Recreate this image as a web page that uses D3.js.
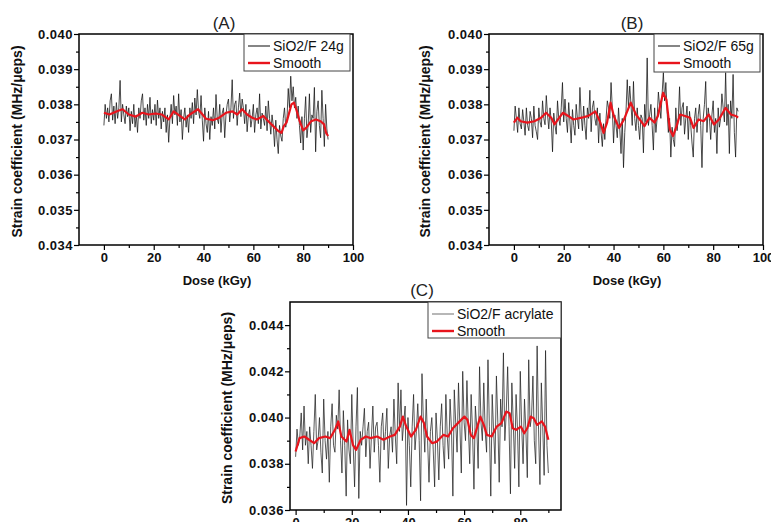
<!DOCTYPE html>
<html><head><meta charset="utf-8">
<script src="https://cdn.jsdelivr.net/npm/d3@7"></script>
<style>body{margin:0;background:#fff}svg{display:block}</style>
</head><body><svg id="c" width="771" height="522"></svg>
<script>
// ---------- DATA ----------
const panelTitles = ["(A)", "(B)", "(C)"];
const legendLabels = ["SiO2/F 24g", "SiO2/F 65g", "SiO2/F acrylate"];
const smoothLabel = "Smooth";
const xTitle = "Dose (kGy)";
const yTitle = "Strain coefficient (MHz/\u03bceps)";
const xTicksAB = [0, 20, 40, 60, 80, 100];
const xMinorAB = [10, 30, 50, 70, 90];
const xTicksC = [0, 20, 40, 60, 80];
const xMinorC = [10, 30, 50, 70, 90];
const yTicksAB = [0.034, 0.035, 0.036, 0.037, 0.038, 0.039, 0.040];
const yMinorAB = [0.0345, 0.0355, 0.0365, 0.0375, 0.0385, 0.0395];
const yTicksC = [0.036, 0.038, 0.040, 0.042, 0.044];
const yMinorC = [0.037, 0.039, 0.041, 0.043];

// raw samples every 0.5 kGy from 0 to 90
const rawStep = 0.5;
const rawA = [
.03740,.03800,.03760,.03790,.03750,.03810,.03830,.03755,.03795,.03745,
.03805,.03760,.03790,.03868,.03750,.03800,.03770,.03745,.03795,.03765,
.03790,.03725,.03780,.03745,.03800,.03735,.03770,.03720,.03790,.03760,
.03810,.03830,.03755,.03790,.03740,.03800,.03760,.03820,.03745,.03785,
.03755,.03800,.03740,.03812,.03760,.03790,.03730,.03780,.03750,.03790,
.03720,.03770,.03692,.03760,.03800,.03745,.03825,.03770,.03795,.03740,
.03830,.03750,.03785,.03700,.03760,.03790,.03735,.03770,.03720,.03790,
.03760,.03805,.03745,.03818,.03770,.03842,.03780,.03760,.03825,.03755,
.03695,.03790,.03745,.03720,.03780,.03700,.03765,.03740,.03790,.03730,
.03828,.03760,.03745,.03800,.03720,.03775,.03790,.03705,.03770,.03800,
.03815,.03750,.03790,.03870,.03760,.03800,.03810,.03740,.03790,.03832,
.03765,.03815,.03790,.03745,.03800,.03722,.03770,.03785,.03735,.03760,
.03800,.03720,.03770,.03790,.03745,.03830,.03730,.03775,.03760,.03740,
.03795,.03725,.03810,.03760,.03715,.03770,.03740,.03680,.03755,.03700,
.03660,.03740,.03710,.03695,.03760,.03790,.03735,.03760,.03845,.03790,
.03880,.03810,.03850,.03790,.03820,.03760,.03795,.03740,.03690,.03765,
.03670,.03760,.03822,.03705,.03740,.03830,.03720,.03770,.03760,.03848,
.03665,.03780,.03810,.03740,.03705,.03840,.03760,.03680,.03800,.03730,
.03700];
const rawB = [
.03725,.03795,.03760,.03720,.03790,.03745,.03730,.03785,.03750,.03712,
.03790,.03740,.03725,.03780,.03760,.03705,.03795,.03740,.03722,.03700,
.03790,.03750,.03735,.03810,.03760,.03742,.03825,.03770,.03730,.03790,
.03750,.03665,.03775,.03740,.03715,.03810,.03760,.03740,.03790,.03862,
.03750,.03815,.03760,.03720,.03805,.03750,.03690,.03785,.03740,.03712,
.03800,.03760,.03730,.03848,.03770,.03725,.03795,.03740,.03700,.03790,
.03760,.03840,.03722,.03790,.03810,.03760,.03740,.03790,.03690,.03775,
.03720,.03680,.03745,.03700,.03760,.03810,.03790,.03760,.03862,.03790,
.03690,.03770,.03740,.03705,.03790,.03730,.03660,.03760,.03620,.03720,
.03780,.03870,.03790,.03852,.03800,.03740,.03865,.03760,.03725,.03790,
.03740,.03700,.03770,.03760,.03662,.03800,.03750,.03932,.03740,.03770,
.03800,.03740,.03670,.03790,.03720,.03760,.03835,.03795,.03760,.03830,
.03890,.03810,.03862,.03780,.03720,.03760,.03650,.03735,.03700,.03680,
.03790,.03725,.03760,.03850,.03740,.03790,.03805,.03715,.03760,.03795,
.03700,.03780,.03740,.03690,.03650,.03760,.03790,.03720,.03770,.03800,
.03740,.03620,.03760,.03800,.03865,.03720,.03790,.03760,.03700,.03770,
.03810,.03720,.03760,.03660,.03790,.03735,.03760,.03830,.03790,.03750,
.03890,.03740,.03800,.03660,.03810,.03760,.03885,.03720,.03650,.03790,
.03780];
const rawC = [
.03830,.03950,.03880,.03920,.04020,.03860,.04050,.03880,.03940,.03800,
.03960,.03880,.03780,.03940,.04100,.03860,.03900,.04000,.03850,.03760,
.04080,.03900,.03820,.03940,.03720,.03960,.04060,.03880,.03850,.04010,
.03950,.04120,.03900,.03760,.04030,.03880,.03660,.03990,.03860,.03800,
.04100,.03880,.03700,.03960,.04130,.03650,.03940,.03880,.03960,.04040,
.03830,.03940,.03980,.03780,.03920,.04050,.03850,.03960,.03980,.03880,
.03720,.03960,.04020,.03860,.03940,.04040,.03780,.03920,.03960,.03850,
.04080,.03920,.03800,.04150,.03940,.04120,.03900,.03980,.04050,.03620,
.04000,.03880,.03700,.03960,.04100,.03860,.03940,.04060,.03900,.03640,
.04190,.03980,.03850,.04080,.03900,.03720,.03940,.04000,.03860,.03700,
.04020,.03900,.03730,.03960,.04060,.03880,.03780,.04100,.03920,.03820,
.04080,.03950,.03660,.04120,.03980,.03850,.04150,.03960,.03760,.04200,
.03980,.03900,.04160,.03960,.03800,.04100,.03940,.03690,.04050,.03960,
.03780,.04220,.03980,.03900,.04150,.03940,.03850,.04250,.03960,.03660,
.04100,.03940,.03800,.04180,.03980,.03720,.04080,.03960,.04280,.03900,
.04020,.04220,.03960,.03670,.04150,.03980,.03780,.04100,.03950,.03700,
.04200,.03960,.03800,.04080,.03940,.03740,.04250,.03960,.04000,.04180,
.03900,.03800,.04310,.03950,.03710,.04150,.03960,.03750,.04290,.03880,
.03760];

// smoothed curves [dose, value]
const smoothA = [
[0,.03776],[2.2,.03771],[5.5,.03781],[7.5,.03786],[10,.03771],[12.8,.03765],[15.4,.03776],
[18,.03771],[20.7,.03774],[23.3,.03771],[26,.03757],[28,.0378],[30.5,.03767],[32.5,.03757],
[34.5,.03771],[37.8,.03786],[39,.03776],[41,.03759],[43.7,.03755],[46.3,.03762],[49,.03776],
[51.6,.0378],[53.5,.03771],[55.5,.03786],[57.5,.03771],[59.5,.03762],[61.4,.03757],[64,.03767],
[66,.03752],[68,.03738],[70,.03724],[71.3,.03719],[72.2,.03738],[73.3,.03748],[75.3,.0380],
[76.3,.03805],[77.2,.03786],[78.6,.03752],[80,.03726],[81.2,.03733],[83.2,.03752],[85.1,.03757],
[87,.03752],[88.4,.03743],[89.2,.03719],[90,.0371]];
const smoothB = [
[0,.03748],[1.4,.03762],[2.7,.03752],[5.4,.03748],[8.2,.03752],[10.9,.03762],[12.9,.03776],
[15,.03762],[16.3,.03743],[17.7,.03757],[19.7,.03776],[21.8,.03767],[23.8,.03757],[27.2,.03762],
[29.9,.03767],[32.7,.0378],[34.7,.03748],[36,.03719],[37.4,.03748],[38.8,.03805],[40.1,.03767],
[42.2,.03733],[44.2,.03757],[46.9,.03805],[49,.03771],[51,.03752],[52.4,.03738],[54.4,.03762],
[56.5,.03748],[57.8,.03767],[59.9,.03833],[61.2,.03814],[62.6,.03729],[63.9,.0371],[65.3,.03738],
[66.7,.03771],[68.7,.03767],[70.7,.03762],[72.1,.03733],[74.1,.03757],[76.2,.03752],[78.2,.03771],
[80.3,.03743],[82.3,.03757],[85,.0379],[87.1,.03771],[89.1,.03767],[90,.03762]];
const smoothC = [
[0,.03853],[1.4,.03911],[3.1,.03918],[4.8,.03904],[6.6,.03889],[8.3,.03911],[10.6,.03918],
[12.3,.03911],[14,.03947],[15.2,.03983],[16.3,.03918],[18.1,.03896],[19.2,.03947],[20.4,.03882],
[21.5,.0386],[23.2,.03904],[25,.03918],[26.7,.03911],[29,.03918],[31.3,.03904],[33.6,.03918],
[35.3,.03925],[37.1,.03961],[38.2,.04004],[39.4,.03961],[41.1,.03918],[42.8,.03947],[44.5,.04004],
[45.7,.03976],[46.8,.03918],[48.6,.03889],[50.3,.03896],[52.6,.03925],[54.3,.03918],[56,.03954],
[57.8,.03976],[60.1,.04004],[61.2,.0399],[62.4,.03925],[63.5,.03911],[64.7,.03961],[65.8,.04004],
[67,.03968],[68.1,.03925],[69.8,.03918],[71.6,.03961],[73.3,.03976],[75,.04026],[76.2,.04019],
[77.3,.03954],[78.5,.03947],[80.2,.03961],[81.4,.03932],[82.5,.03954],[83.7,.04004],[84.8,.03997],
[86,.03968],[87.7,.03983],[88.8,.03961],[90,.03904]];

// ---------- LAYOUT ----------
const panels = [
  {raw: rawA, smooth: smoothA, title: panelTitles[0], leg: legendLabels[0],
   l: 79, r: 353, t: 34, b: 245, xd: [-10, 100], yd: [0.034, 0.040],
   xt: xTicksAB, xm: xMinorAB, yt: yTicksAB, ym: yMinorAB,
   titleX: 224, titleY: 29, yTitleX: 17, xTitleX: 217, xTitleY: 285,
   legBox: [244, 34, 106, 37], rawColor: "#111", legRawColor: "#333"},
  {raw: rawB, smooth: smoothB, title: panelTitles[1], leg: legendLabels[1],
   l: 489, r: 763, t: 34, b: 245, xd: [-10, 100], yd: [0.034, 0.040],
   xt: xTicksAB, xm: xMinorAB, yt: yTicksAB, ym: yMinorAB,
   titleX: 632, titleY: 29, yTitleX: 425, xTitleX: 627, xTitleY: 285,
   legBox: [654, 34, 106, 38], rawColor: "#111", legRawColor: "#333"},
  {raw: rawC, smooth: smoothC, title: panelTitles[2], leg: legendLabels[2],
   l: 290, r: 561, t: 302, b: 510, xd: [-2, 94.5], yd: [0.036, 0.045],
   xt: xTicksC, xm: xMinorC, yt: yTicksC, ym: yMinorC,
   titleX: 422, titleY: 296, yTitleX: 227, xTitleX: null, xTitleY: null,
   legBox: [428, 302, 133, 36], rawColor: "#222", legRawColor: "#888"}
];

const svg = d3.select("#c");
const FONT = "Arial, 'Liberation Sans', Helvetica, sans-serif";

panels.forEach(p => {
  const x = d3.scaleLinear().domain(p.xd).range([p.l, p.r]);
  const y = d3.scaleLinear().domain(p.yd).range([p.b, p.t]);
  const g = svg.append("g");

  // data
  const rawPts = p.raw.map((v, i) => [i * rawStep, v]);
  const line = d3.line().x(d => x(d[0])).y(d => y(d[1]));
  g.append("path").attr("d", line(rawPts)).attr("fill", "none")
    .attr("stroke", p.rawColor).attr("stroke-width", 0.75);
  g.append("path").attr("d", line(p.smooth)).attr("fill", "none")
    .attr("stroke", "#e8141c").attr("stroke-width", 2.2).attr("stroke-linejoin", "round");

  // axes
  g.append("g").attr("transform", `translate(0,${p.b})`)
    .call(d3.axisBottom(x).tickValues(p.xt).tickSize(5).tickPadding(3).tickFormat(d3.format("d")));
  g.append("g").attr("transform", `translate(0,${p.b})`)
    .call(d3.axisBottom(x).tickValues(p.xm).tickSize(3).tickFormat(""));
  const ay = g.append("g").attr("transform", `translate(${p.l},0)`)
    .call(d3.axisLeft(y).tickValues(p.yt).tickSize(5).tickPadding(1).tickFormat(d3.format(".3f")));
  g.append("g").attr("transform", `translate(${p.l},0)`)
    .call(d3.axisLeft(y).tickValues(p.ym).tickSize(3).tickFormat(""));
  g.selectAll(".domain").remove();
  g.selectAll(".tick line").attr("stroke", "#000").attr("stroke-width", 1.2);
  g.selectAll(".tick text").attr("font-family", FONT).attr("font-weight", "bold")
    .attr("font-size", 13).attr("fill", "#111");
  ay.selectAll(".tick text").attr("letter-spacing", 0.5);

  // frame
  g.append("rect").attr("x", p.l).attr("y", p.t).attr("width", p.r - p.l).attr("height", p.b - p.t)
    .attr("fill", "none").attr("stroke", "#000").attr("stroke-width", 1.5);

  // titles
  g.append("text").attr("x", p.titleX).attr("y", p.titleY).attr("text-anchor", "middle")
    .attr("font-family", FONT).attr("font-size", 17).attr("fill", "#222").text(p.title);
  if (p.xTitleY) {
    g.append("text").attr("x", p.xTitleX).attr("y", p.xTitleY).attr("text-anchor", "middle")
      .attr("font-family", FONT).attr("font-weight", "bold").attr("font-size", 13).attr("fill", "#111")
      .text(xTitle);
  }
  const yc = (p.t + p.b) / 2 + 2;
  g.append("text").attr("transform", `translate(${p.yTitleX},${yc}) rotate(-90)`)
    .attr("text-anchor", "middle").attr("dominant-baseline", "central")
    .attr("font-family", FONT).attr("font-weight", "bold").attr("font-size", 14).attr("fill", "#111")
    .text(yTitle);

  // legend
  const [lx, ly, lw, lh] = p.legBox;
  const lg = g.append("g");
  lg.append("rect").attr("x", lx).attr("y", ly).attr("width", lw).attr("height", lh)
    .attr("fill", "#fff").attr("stroke", "#444").attr("stroke-width", 1);
  const rows = [{label: p.leg, color: p.legRawColor, w: 1.2, dy: 12},
                {label: smoothLabel, color: "#e8141c", w: 2.4, dy: 29}];
  rows.forEach(rw => {
    lg.append("line").attr("x1", lx + 4).attr("x2", lx + 26).attr("y1", ly + rw.dy).attr("y2", ly + rw.dy)
      .attr("stroke", rw.color).attr("stroke-width", rw.w);
    lg.append("text").attr("x", lx + 29).attr("y", ly + rw.dy + 5)
      .attr("font-family", FONT).attr("font-size", 14).attr("fill", "#111").text(rw.label);
  });
});
</script></body></html>
